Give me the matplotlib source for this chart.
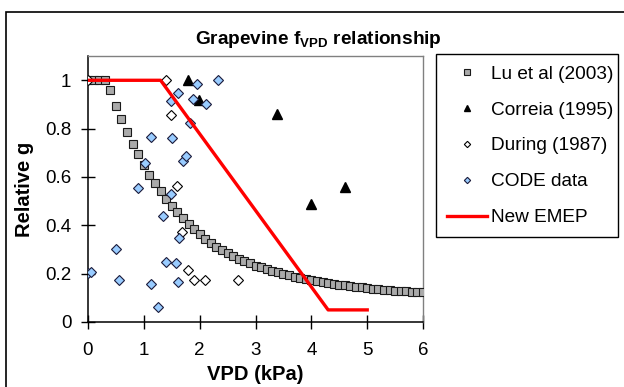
#!/usr/bin/env python3
# -*- coding: utf-8 -*-

import matplotlib
matplotlib.use('Agg')
import matplotlib.pyplot as plt
from matplotlib.patches import Rectangle
from matplotlib.ticker import FuncFormatter

plt.rcParams['font.family'] = ['Liberation Sans', 'DejaVu Sans']
plt.rcParams['mathtext.fontset'] = 'custom'
plt.rcParams['mathtext.rm'] = 'Liberation Sans'
plt.rcParams['mathtext.bf'] = 'Liberation Sans:bold'

# Lu et al (2003), every 0.1 kPa from 0 to 6
lu_vpd = [i / 10 for i in range(61)]
lu_g = [1.0, 1.0, 1.0, 1.0, 0.96, 0.895, 0.84, 0.785, 0.735, 0.695,
        0.65, 0.61, 0.575, 0.54, 0.51, 0.48, 0.455, 0.43, 0.405, 0.383,
        0.363, 0.344, 0.328, 0.312, 0.298, 0.285, 0.273, 0.262, 0.252, 0.242,
        0.233, 0.226, 0.219, 0.212, 0.205, 0.199, 0.193, 0.188, 0.183, 0.178,
        0.174, 0.17, 0.166, 0.162, 0.158, 0.155, 0.152, 0.149, 0.146, 0.143,
        0.14, 0.138, 0.136, 0.134, 0.132, 0.13, 0.128, 0.127, 0.126, 0.125,
        0.124]

correia_vpd = [1.79, 1.99, 3.38, 3.99, 4.6]
correia_g = [1.0, 0.92, 0.86, 0.49, 0.56]

during_vpd = [0.0, 1.39, 1.49, 1.6, 1.69, 1.79, 1.89, 2.1, 2.68]
during_g = [1.0, 1.0, 0.855, 0.563, 0.372, 0.214, 0.174, 0.174, 0.174]

code_vpd = [0.0, 0.05, 0.51, 0.56, 0.9, 1.02, 1.125, 1.125, 1.26, 1.35,
            1.39, 1.49, 1.49, 1.51, 1.57, 1.61, 1.61, 1.63, 1.70, 1.76,
            1.82, 1.88, 1.95, 2.11, 2.33]
code_g = [0.202, 0.207, 0.302, 0.174, 0.553, 0.656, 0.765, 0.156, 0.062, 0.437,
          0.248, 0.914, 0.53, 0.762, 0.243, 0.949, 0.165, 0.347, 0.665, 0.686,
          0.824, 0.924, 0.983, 0.903, 1.0]

emep_vpd = [0.0, 1.3, 4.3, 5.0]
emep_g = [1.0, 1.0, 0.05, 0.05]


fig = plt.figure(figsize=(6.24, 3.87), dpi=100)
ax = fig.add_axes([0.141, 0.168, 0.537, 0.687])

ax.plot(lu_vpd, lu_g, 's', ms=5.5, mfc='#aaaaaa', mec='#1a1a1a', mew=0.8,
        label='Lu et al (2003)', zorder=3)
ax.plot(correia_vpd, correia_g, '^', ms=6.5, color='black',
        label='Correia (1995)', zorder=4)
ax.plot(during_vpd, during_g, 'D', ms=4.6, mfc='white', mec='black', mew=0.8,
        label='During (1987)', zorder=4)
ax.plot(code_vpd, code_g, 'D', ms=4.6, mfc='#99ccff', mec='#1a1a3a', mew=0.8,
        label='CODE data', zorder=4)
ax.plot(emep_vpd, emep_g, '-', color='#ff0000', lw=2.4, label='New EMEP', zorder=5)

ax.set_xlim(0, 6)
ax.set_ylim(0, 1.1)
ax.set_xticks(range(0, 7))
ax.set_yticks([0, 0.2, 0.4, 0.6, 0.8, 1.0])
ax.yaxis.set_major_formatter(FuncFormatter(lambda v, p: '%g' % round(v, 1)))
ax.tick_params(direction='inout', length=10, width=1, labelsize=13.5)
ax.tick_params(axis='x', pad=9.5)
ax.tick_params(axis='y', pad=7)

for s in ['top', 'right']:
    ax.spines[s].set_color('#808080')
    ax.spines[s].set_linewidth(1)
for s in ['left', 'bottom']:
    ax.spines[s].set_linewidth(1.1)

ax.set_xlabel('VPD (kPa)', fontsize=14.5, fontweight='bold', labelpad=4)
ax.set_ylabel('Relative g', fontsize=14.5, fontweight='bold', labelpad=8)

fig.text(0.51, 0.899, r'Grapevine f$_{\mathbf{VPD}}$ relationship',
         ha='center', va='center', fontsize=13.7, fontweight='bold')

fig.legend(loc='upper left', bbox_to_anchor=(0.699, 0.860, 0.292, 0.0),
           mode='expand', borderaxespad=0, fontsize=13.7, frameon=True,
           fancybox=False, edgecolor='black', framealpha=1,
           labelspacing=0.98, handlelength=2.1, handletextpad=0.2,
           borderpad=0.58, markerscale=0.7)

# outer chart border (only left and top are inside the picture)
fig.patches.append(Rectangle((6 / 624, -0.2), 1.5, 1.2 - 12 / 387, fill=False,
                             lw=1.2, ec='black', transform=fig.transFigure))

fig.savefig('out.png', dpi=100)
